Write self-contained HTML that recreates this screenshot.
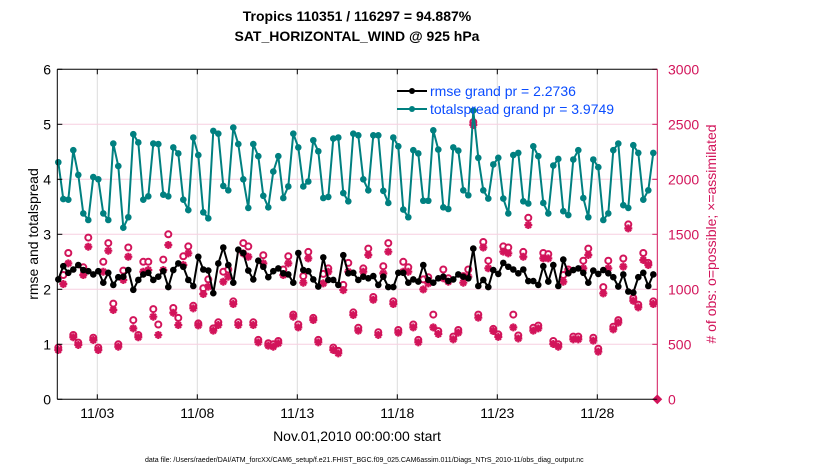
<!DOCTYPE html>
<html><head><meta charset="utf-8"><style>
body{margin:0;background:#fff;width:830px;height:470px;overflow:hidden;font-family:"Liberation Sans",Arial,sans-serif}
svg text{font-family:"Liberation Sans",Arial,sans-serif}
</style></head><body>
<svg id="chart" width="830" height="470" xmlns="http://www.w3.org/2000/svg">
<text x="357" y="21" text-anchor="middle" font-size="14" font-weight="bold">Tropics 110351 / 116297 = 94.887%</text>
<text x="357" y="41" text-anchor="middle" font-size="14" font-weight="bold">SAT_HORIZONTAL_WIND @ 925 hPa</text>
<g id="grid"></g>
<g id="marks"></g>
<g id="axes"></g>
<text x="357" y="441" text-anchor="middle" font-size="14">Nov.01,2010 00:00:00 start</text>
<text transform="translate(38,234) rotate(-90)" text-anchor="middle" font-size="14">rmse and totalspread</text>
<text transform="translate(716,234) rotate(-90)" text-anchor="middle" font-size="14" fill="#d2145a"># of obs: o=possible; ×=assimilated</text>
<text x="145" y="462" font-size="7">data file: /Users/raeder/DAI/ATM_forcXX/CAM6_setup/f.e21.FHIST_BGC.f09_025.CAM6assim.011/Diags_NTrS_2010-11/obs_diag_output.nc</text>
<g id="legend">
<line x1="397" y1="91" x2="427" y2="91" stroke="#000" stroke-width="2"/><circle cx="412" cy="91" r="3" fill="#000"/>
<text x="430" y="96" font-size="14" fill="#0a4cff">rmse grand pr = 2.2736</text>
<line x1="397" y1="109" x2="427" y2="109" stroke="#008080" stroke-width="2"/><circle cx="412" cy="109" r="3" fill="#008080"/>
<text x="430" y="114" font-size="14" fill="#0a4cff">totalspread grand pr = 3.9749</text>
</g>
</svg>
<script>
const xTickLabels=["11/03","11/08","11/13","11/18","11/23","11/28"];
const xTickDays=[2,7,12,17,22,27];
const yTicks=[0,1,2,3,4,5,6];
const y2Ticks=[0,500,1000,1500,2000,2500,3000];
const spread=[4.31,3.64,3.63,4.53,4.08,3.38,3.26,4.04,4.0,3.38,3.26,4.65,4.24,3.12,3.31,4.82,4.67,3.63,3.69,4.65,4.64,3.72,3.69,4.58,4.47,3.63,3.44,4.76,4.44,3.40,3.29,4.88,4.83,3.88,3.80,4.94,4.64,4.0,3.48,4.64,4.42,3.70,3.49,4.14,4.42,3.66,3.87,4.83,4.58,3.87,3.96,4.71,4.51,3.66,3.68,4.74,4.76,3.75,3.60,4.83,4.80,4.0,3.80,4.80,4.80,3.79,3.57,4.76,4.60,3.45,3.31,4.53,4.47,3.61,3.61,4.89,4.54,3.49,3.46,4.58,4.52,3.80,3.71,5.25,4.39,3.80,3.65,4.27,4.39,3.65,3.38,4.44,4.48,3.60,3.56,4.60,4.42,3.57,3.38,4.25,4.37,3.42,3.35,4.36,4.53,3.66,3.31,4.36,4.22,3.26,3.38,4.53,4.65,3.53,3.48,4.62,4.48,3.63,3.80,4.48];
const rmse=[2.18,2.42,2.30,2.36,2.44,2.35,2.33,2.27,2.33,2.12,2.30,2.08,2.22,2.23,2.35,1.99,2.17,2.27,2.30,2.17,2.23,2.33,2.04,2.35,2.47,2.41,2.17,2.06,2.59,2.36,2.34,1.93,2.47,2.76,2.44,2.12,2.72,2.66,2.34,2.18,2.52,2.41,2.22,2.33,2.38,2.29,2.27,2.12,2.66,2.35,2.33,2.18,2.05,2.58,2.17,2.17,2.08,2.62,2.29,2.30,2.17,2.23,2.20,2.24,2.08,2.23,2.04,2.04,2.30,2.30,2.12,2.18,2.14,2.44,2.17,2.12,2.20,2.23,2.15,2.18,2.27,2.23,2.20,2.74,2.06,2.17,2.04,2.35,2.28,2.48,2.41,2.36,2.29,2.36,2.15,2.15,2.08,2.42,2.14,2.44,2.06,2.54,2.29,2.35,2.38,2.30,2.12,2.34,2.28,2.35,2.29,2.22,2.05,2.27,1.96,1.94,2.22,2.30,2.06,2.27];
const assimilated=[448,1048,1236,564,494,1130,1387,539,448,1160,1351,812,478,1085,1296,645,564,1160,1175,751,585,1175,1403,787,675,1221,1327,827,672,957,1024,624,675,1069,1115,866,675,1327,1296,675,518,1236,488,478,509,1130,1236,751,654,1060,1281,721,518,1054,1160,448,418,993,1160,766,624,1160,1312,905,585,1145,1342,866,606,1160,1160,654,518,999,1054,654,594,1100,1069,545,606,1060,1115,2494,742,1380,1191,621,567,1342,1327,654,553,1296,1584,624,645,1281,1281,503,478,1069,1160,545,545,1191,1312,533,433,963,1191,636,697,1206,1554,896,836,1266,1221,866];
const possible=[470,1130,1330,585,515,1200,1470,560,470,1250,1420,870,500,1170,1380,720,585,1250,1250,820,680,1270,1500,830,740,1300,1390,850,690,1010,1090,645,700,1160,1180,890,700,1420,1390,700,540,1310,510,500,530,1180,1300,770,680,1120,1340,740,540,1140,1190,470,440,1040,1240,790,650,1190,1370,930,610,1210,1420,890,630,1250,1200,680,540,1090,1110,770,620,1180,1100,570,630,1120,1180,2520,770,1430,1260,640,590,1390,1380,770,580,1340,1650,650,670,1330,1320,530,500,1130,1180,570,570,1260,1370,560,460,1020,1260,660,720,1280,1590,920,860,1330,1240,890];
const NS="http://www.w3.org/2000/svg";
const X0=57.3,X1=657.3,Y0=399.3,Y6=69.3;
function xs(d){return X0+(X1-X0)*d/30;}
function ys(v){return Y0-(Y0-Y6)*v/6;}
function ys2(v){return Y0-(Y0-Y6)*v/3000;}
function dayOf(i){return 0.05+i*0.25;}
function mk(tag,attrs,parent){const e=document.createElementNS(NS,tag);for(const k in attrs)e.setAttribute(k,attrs[k]);parent.appendChild(e);return e;}
const grid=document.getElementById('grid'),marks=document.getElementById('marks'),axes=document.getElementById('axes');
xTickDays.forEach((d,i)=>{
  const l=mk('line',{x1:xs(d),x2:xs(d),y1:Y6,y2:Y0,stroke:'#dcdcdc','stroke-width':1},grid);
  
  
  mk('line',{x1:xs(d),x2:xs(d),y1:Y0,y2:Y0-5,stroke:'#000'},axes);
  mk('line',{x1:xs(d),x2:xs(d),y1:Y6,y2:Y6+5,stroke:'#000'},axes);
  const tx=mk('text',{x:xs(d),y:418,'text-anchor':'middle','font-size':14},axes);
  tx.textContent=xTickLabels[i];
  
  
});
yTicks.forEach(v=>{
  if(v>0&&v<6){const g=mk('line',{x1:X0,x2:X1,y1:ys(v),y2:ys(v),stroke:'#f7cfe0','stroke-width':1},grid);
  
  }
  mk('line',{x1:X0,x2:X0+5,y1:ys(v),y2:ys(v),stroke:'#000'},axes);
  const tx=mk('text',{x:51,y:ys(v)+5,'text-anchor':'end','font-size':14},axes);
  tx.textContent=v;
  
  
});
y2Ticks.forEach(v=>{
  mk('line',{x1:X1,x2:X1-5,y1:ys2(v),y2:ys2(v),stroke:'#d2145a'},axes);
  const tx=mk('text',{x:668,y:ys2(v)+5,'font-size':14,fill:'#d2145a'},axes);
  tx.textContent=v;
  
  
});
mk('line',{x1:X0,x2:X1,y1:Y0,y2:Y0,stroke:'#000'},axes);
mk('line',{x1:X0,x2:X1,y1:Y6,y2:Y6,stroke:'#000'},axes);
mk('line',{x1:X0,x2:X0,y1:Y6,y2:Y0,stroke:'#000'},axes);
mk('line',{x1:X1,x2:X1,y1:Y6,y2:Y0,stroke:'#d2145a'},axes);
possible.forEach((v,i)=>{
  const c=mk('circle',{cx:xs(dayOf(i)),cy:ys2(v),r:3,fill:'#fff',stroke:'#d2145a','stroke-width':2},marks);
  
  
});
assimilated.forEach((v,i)=>{
  const x=xs(dayOf(i)),y=ys2(v),r=4;
  const d=`M${x-r},${y}H${x+r}M${x},${y-r}V${y+r}M${x-r*0.7},${y-r*0.7}L${x+r*0.7},${y+r*0.7}M${x-r*0.7},${y+r*0.7}L${x+r*0.7},${y-r*0.7}`;
  const s=mk('path',{d:d,stroke:'#d2145a','stroke-width':2.2,fill:'none'},marks);
  
  
});
function series(vals,color,name){
  const pts=vals.map((v,i)=>xs(dayOf(i)).toFixed(1)+','+ys(v).toFixed(1)).join(' ');
  const pl=mk('polyline',{points:pts,fill:'none',stroke:color,'stroke-width':2},marks);
  
  
  vals.forEach((v,i)=>{
    const c=mk('circle',{cx:xs(dayOf(i)),cy:ys(v),r:3.3,fill:color},marks);
    
    
  });
}
series(spread,'#008080','totalspread');
series(rmse,'#000','rmse');
const z=mk('rect',{x:X1-3.5,y:Y0-3.5,width:7,height:7,fill:'#d2145a',transform:'rotate(45 '+X1+' '+Y0+')'},marks);


</script>
</body></html>
